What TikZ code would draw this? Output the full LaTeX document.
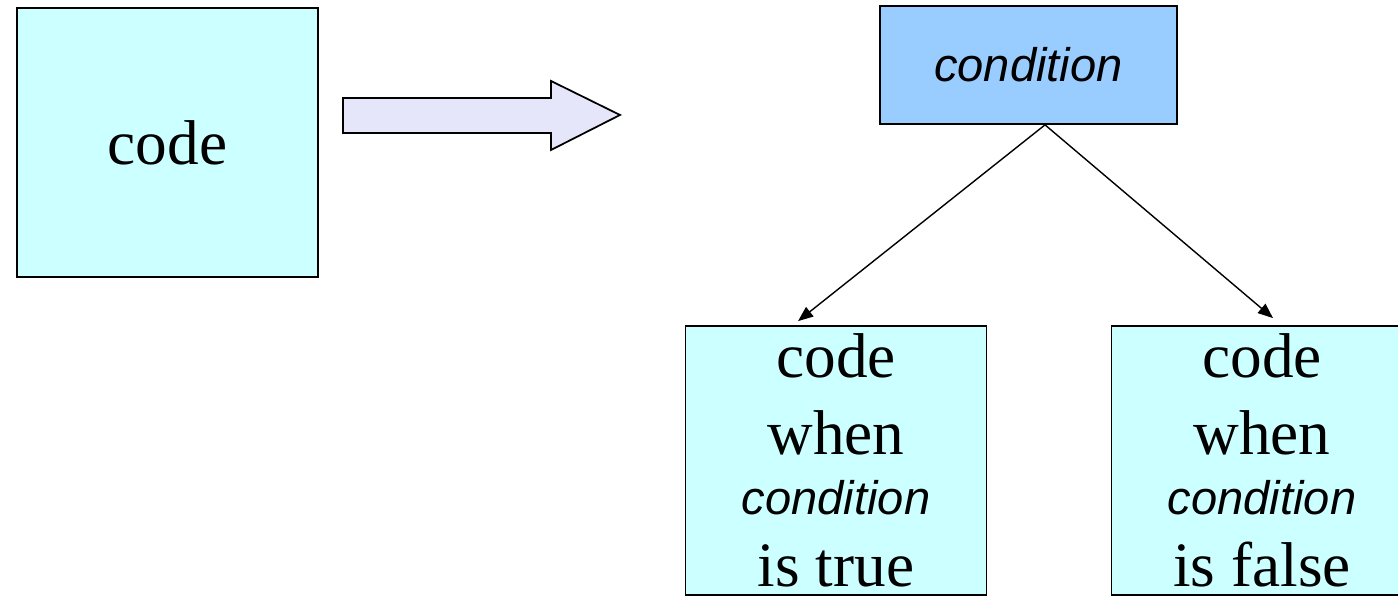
\documentclass[tikz,border=0pt]{standalone}
\usepackage{fontspec}
\setmainfont{Liberation Serif}
\newfontfamily\condsans{Liberation Sans}
\usetikzlibrary{positioning,arrows.meta}

\definecolor{codecyan}{HTML}{CCFFFF}
\definecolor{condblue}{HTML}{99CCFF}
\definecolor{arrowlav}{HTML}{E6E6FA}

\newcommand{\condword}{{\condsans\itshape\fontsize{13.4}{16}\selectfont condition}}

\begin{document}
\begin{tikzpicture}[
		codebox/.style={draw, fill=codecyan, line width=0.5pt, inner sep=0pt,
			minimum width=3.01cm, minimum height=2.69cm, align=center,
			font=\fontsize{18}{21.9}\selectfont},
		condbox/.style={draw, fill=condblue, line width=0.5pt, inner sep=0pt,
			minimum width=2.97cm, minimum height=1.18cm},
		branch/.style={line width=0.4pt, -{Triangle[length=4.3pt,width=3.4pt]}}
	]
		\useasboundingbox (0,0) rectangle (13.98,5.96);

		% Plain code before the change
		\node[codebox] (code) at (1.675,4.535) {\raisebox{-0.04cm}{code}};

		% Block arrow
		\draw[fill=arrowlav, line width=0.5pt, line join=miter]
			(3.43,4.98) -- (5.51,4.98) -- (5.51,5.15) -- (6.20,4.81)
			-- (5.51,4.46) -- (5.51,4.63) -- (3.43,4.63) -- cycle;

		% Condition and its two branches
		\node[condbox] (cond) at (10.285,5.31) {\condword};
		\node[codebox] (truecode) at (8.36,1.355)
			{code\\when\\[-4.8pt]\condword\\[-1.3pt]is true};
		\node[codebox] (falsecode) at (12.62,1.355)
			{code\\when\\[-4.8pt]\condword\\[-1.3pt]is false};

		% Branch lines
		\coordinate (split) at ([xshift=0.165cm]cond.south);
		\draw[branch] (split) -- ([xshift=-0.38cm,yshift=0.04cm]truecode.north);
		\draw[branch] (split) -- ([xshift=0.11cm,yshift=0.07cm]falsecode.north);
	\end{tikzpicture}
\end{document}
